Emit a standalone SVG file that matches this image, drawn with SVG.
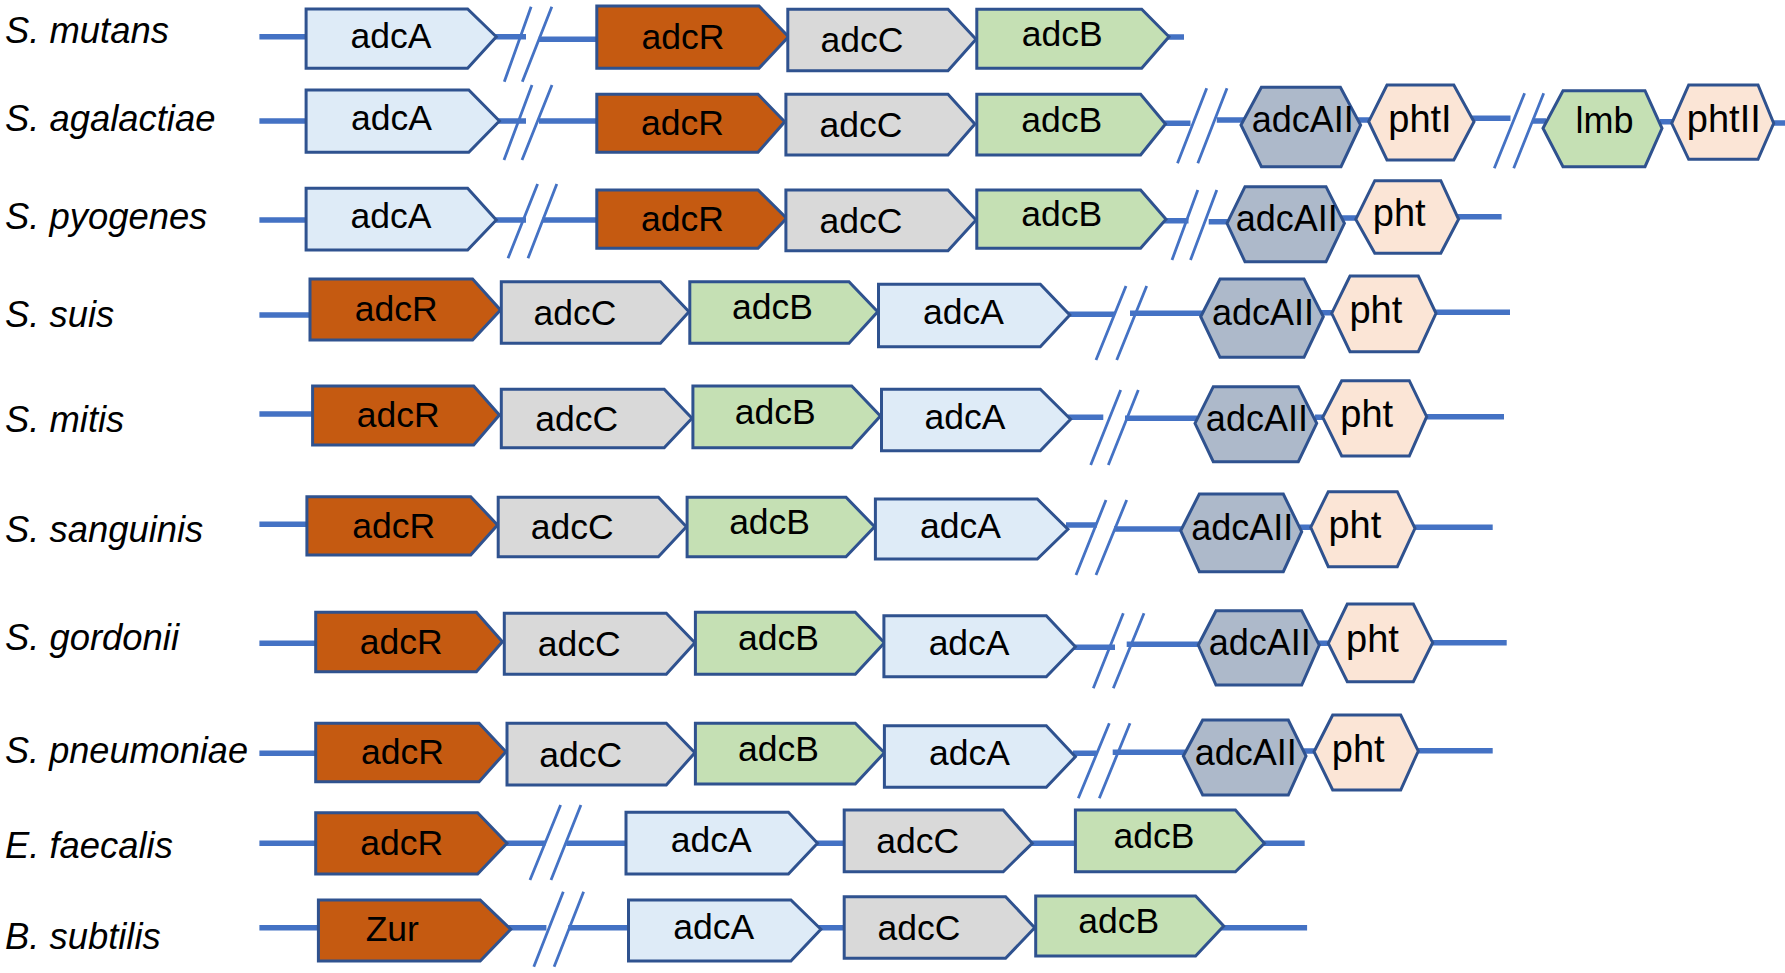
<svg xmlns="http://www.w3.org/2000/svg" width="1785" height="973" viewBox="0 0 1785 973">
<style>
.ln{stroke:#4472C4;stroke-width:5.5;fill:none}
.sl{stroke:#4472C4;stroke-width:2.8;fill:none}
.g{stroke:#2F528F;stroke-width:3;stroke-linejoin:miter}
.R{fill:#C55A11}.C{fill:#D9D9D9}.B{fill:#C5E0B4}.A{fill:#DEEBF7}.A2{fill:#ADB9CA}.P{fill:#FBE5D6}.L{fill:#C5E0B4}
text{font-family:"Liberation Sans",Arial,sans-serif;fill:#000}
.t{font-size:35.5px;text-anchor:middle}
.h{font-size:36px;text-anchor:middle}
.hp{font-size:38px;text-anchor:middle}
.lab{font-size:36.4px;font-style:italic}
</style>
<rect width="1785" height="973" fill="#fff"/>
<g id="labels">
<text class="lab" x="5" y="43.3">S. mutans</text>
<text class="lab" x="5" y="131">S. agalactiae</text>
<text class="lab" x="5" y="229">S. pyogenes</text>
<text class="lab" x="5" y="326.7">S. suis</text>
<text class="lab" x="5" y="431.7">S. mitis</text>
<text class="lab" x="5" y="542">S. sanguinis</text>
<text class="lab" x="5" y="649.5">S. gordonii</text>
<text class="lab" x="5" y="762.5" textLength="243" lengthAdjust="spacingAndGlyphs">S. pneumoniae</text>
<text class="lab" x="5" y="857.5">E. faecalis</text>
<text class="lab" x="5" y="949">B. subtilis</text>
</g>
<g id="connectors">
<!-- row 1 -->
<path class="ln" d="M259.4 36.7H526M538.8 39.3H600M1165 37H1184"/>
<path class="sl" d="M504.3 81.7L531.1 6.7M522.3 81.7L551.8 6.7"/>
<!-- row 2 -->
<path class="ln" d="M259.4 121H526M539 121H600M1163 123.3H1190.5M1216.8 120H1244M1358 120H1371M1472 118.3H1510.5M1532.7 121H1546M1660 121.7H1674M1772 123H1785"/>
<path class="sl" d="M504 160L532 85M522 160L552 85M1177.5 163.3L1206.7 88.3M1197.8 163.3L1227 88.3M1494.3 168.3L1524.6 93.3M1513.7 168.3L1543.7 93.3"/>
<!-- row 3 -->
<path class="ln" d="M259.4 220H526M542.6 220H600M1163 220.7H1188.5M1208.7 221.7H1229M1342 218H1358M1457 216.7H1501.6"/>
<path class="sl" d="M508 258.3L537.6 184M528 258.3L556.8 184M1172 260L1197.8 190M1190.5 260L1216.8 190"/>
<!-- row 4 -->
<path class="ln" d="M259.4 315H312M1068 314.3H1115M1130 313.3H1203M1321 312.7H1334M1434 312.3H1510"/>
<path class="sl" d="M1096 360L1126 286M1116.7 360L1146.7 286"/>
<!-- row 5 -->
<path class="ln" d="M259.4 414H315M1068 417.3H1103.3M1125 418.3H1197M1315 417.3H1325M1425 416.7H1504"/>
<path class="sl" d="M1090.7 465L1120.7 390M1108.3 465L1138.3 390"/>
<!-- row 6 -->
<path class="ln" d="M259.4 524.3H309M1066 525H1096.7M1114 529H1183M1300 527.3H1313M1413 527.3H1492.7"/>
<path class="sl" d="M1076 575L1106 500M1096 575L1126.7 500"/>
<!-- row 7 -->
<path class="ln" d="M259.4 643.3H318M1073 647.3H1115M1126.7 644.3H1200M1317 643.3H1330M1431 642.7H1506.7"/>
<path class="sl" d="M1093.3 688.3L1123.3 613.3M1113.3 688.3L1144 613.3"/>
<!-- row 8 -->
<path class="ln" d="M259.4 753.3H318M1073 753.3H1096.7M1112.7 752.3H1185M1304 751H1316M1416 750.7H1492.7"/>
<path class="sl" d="M1078.3 798.3L1109.3 723.3M1099.3 798.3L1130 723.3"/>
<!-- row 9 -->
<path class="ln" d="M259.4 843.3H545.3M566.3 843.3H1304.7"/>
<path class="sl" d="M530 880L560.6 805M551 880L580.9 805"/>
<!-- row 10 -->
<path class="ln" d="M259.4 927.7H546.4M568.3 927.7H1307.1"/>
<path class="sl" d="M533.8 966.7L563.3 891.7M554.1 966.7L583.6 891.7"/>
</g>

<!-- Row 1: S. mutans -->
<g id="r1-adcA"><polygon class="g A" points="306.1,9 467.6,9 496.3,36.7 467.6,68.3 306.1,68.3"/><text class="t" x="390.9" y="47.5">adcA</text></g>
<g id="r1-adcR"><polygon class="g R" points="596.8,6 759,6 788.5,36.7 759,68.3 596.8,68.3"/><text class="t" x="682.9" y="49">adcR</text></g>
<g id="r1-adcC"><polygon class="g C" points="787.8,9.3 948,9.3 976,39.3 948,70.7 787.8,70.7"/><text class="t" x="861.9" y="52.3">adcC</text></g>
<g id="r1-adcB"><polygon class="g B" points="976.8,9.3 1141.7,9.3 1169,36.7 1141.7,68.3 976.8,68.3"/><text class="t" x="1062.3" y="45.6">adcB</text></g>

<!-- Row 2: S. agalactiae -->
<g id="r2-adcA"><polygon class="g A" points="306.1,90 468.8,90 499.4,121 468.8,152.3 306.1,152.3"/><text class="t" x="391.5" y="130">adcA</text></g>
<g id="r2-adcR"><polygon class="g R" points="596.8,94.3 758,94.3 784.7,121.7 758,152.3 596.8,152.3"/><text class="t" x="682.4" y="135.1">adcR</text></g>
<g id="r2-adcC"><polygon class="g C" points="785.9,94.3 948,94.3 974.9,124 948,155 785.9,155"/><text class="t" x="861" y="137">adcC</text></g>
<g id="r2-adcB"><polygon class="g B" points="976.8,94.3 1140.6,94.3 1165.5,124 1140.6,155 976.8,155"/><text class="t" x="1061.7" y="131.5">adcB</text></g>
<g id="r2-adcAII"><polygon class="g A2" points="1241,125 1261.4,87.3 1340.4,87.3 1360.6,125 1341,166.7 1261.4,166.7"/><text class="h" x="1302.8" y="132">adcAII</text></g>
<g id="r2-phtI"><polygon class="g P" points="1368.7,121.7 1387,85 1453.8,85 1474,121.7 1453.8,160 1387,160"/><text class="hp" x="1420" y="131.7">phtI</text></g>
<g id="r2-lmb"><polygon class="g L" points="1543,128.3 1563,90.7 1645,90.7 1662,128.3 1645,166.7 1563,166.7"/><text class="h" x="1604.5" y="133">lmb</text></g>
<g id="r2-phtII"><polygon class="g P" points="1671.7,123.3 1688.7,85 1758,85 1773.7,123.3 1758,159.3 1688.7,159.3"/><text class="hp" x="1723.8" y="131.7">phtII</text></g>

<!-- Row 3: S. pyogenes -->
<g id="r3-adcA"><polygon class="g A" points="306.1,188.3 467.6,188.3 496.3,220 467.6,250 306.1,250"/><text class="t" x="390.9" y="228">adcA</text></g>
<g id="r3-adcR"><polygon class="g R" points="596.8,190 758,190 786.6,218.3 758,248.3 596.8,248.3"/><text class="t" x="682.4" y="231">adcR</text></g>
<g id="r3-adcC"><polygon class="g C" points="785.9,190 948,190 976,220 948,250.7 785.9,250.7"/><text class="t" x="861" y="232.7">adcC</text></g>
<g id="r3-adcB"><polygon class="g B" points="976.8,190 1140.6,190 1166,219.3 1140.6,248.3 976.8,248.3"/><text class="t" x="1061.7" y="226">adcB</text></g>
<g id="r3-adcAII"><polygon class="g A2" points="1227,223.3 1245,186.7 1326,186.7 1344.4,223.3 1326,261.8 1245,261.8"/><text class="h" x="1286.7" y="231.3">adcAII</text></g>
<g id="r3-pht"><polygon class="g P" points="1355.7,219.3 1374.8,180.7 1440.8,180.7 1458.6,219.3 1440.8,253.3 1374.8,253.3"/><text class="hp" x="1399.2" y="226">pht</text></g>

<!-- Row 4: S. suis -->
<g id="r4-adcR"><polygon class="g R" points="310,279 472.6,279 500.5,310 472.6,340 310,340"/><text class="t" x="396.3" y="321.3">adcR</text></g>
<g id="r4-adcC"><polygon class="g C" points="501.3,281.7 660.4,281.7 689,311.7 660.4,343.3 501.3,343.3"/><text class="t" x="574.9" y="324.8">adcC</text></g>
<g id="r4-adcB"><polygon class="g B" points="689.8,281.7 849,281.7 877.7,311.7 849,343.3 689.8,343.3"/><text class="t" x="772.4" y="319.3">adcB</text></g>
<g id="r4-adcA"><polygon class="g A" points="878.5,284.3 1040.3,284.3 1069.8,315 1040.3,346.7 878.5,346.7"/><text class="t" x="963.4" y="324.3">adcA</text></g>
<g id="r4-adcAII"><polygon class="g A2" points="1200.7,316.7 1220,279 1304,279 1323.3,316.7 1304,357.3 1220,357.3"/><text class="h" x="1263" y="325.2">adcAII</text></g>
<g id="r4-pht"><polygon class="g P" points="1331.7,313.3 1350,276 1418.3,276 1436,313.3 1418.3,351.7 1350,351.7"/><text class="hp" x="1375.9" y="322.9">pht</text></g>

<!-- Row 5: S. mitis -->
<g id="r5-adcR"><polygon class="g R" points="312.6,386 473.7,386 499.4,415 473.7,445 312.6,445"/><text class="t" x="398.2" y="427.3">adcR</text></g>
<g id="r5-adcC"><polygon class="g C" points="501.3,389.3 664.2,389.3 692,418.3 664.2,447.7 501.3,447.7"/><text class="t" x="576.8" y="430.8">adcC</text></g>
<g id="r5-adcB"><polygon class="g B" points="692.9,386 851.7,386 880.4,416 851.7,447.7 692.9,447.7"/><text class="t" x="775.3" y="423.7">adcB</text></g>
<g id="r5-adcA"><polygon class="g A" points="881.5,389.3 1040.3,389.3 1070.6,419.3 1040.3,450.7 881.5,450.7"/><text class="t" x="964.9" y="428.8">adcA</text></g>
<g id="r5-adcAII"><polygon class="g A2" points="1195,423.3 1213.3,386.7 1298.3,386.7 1316.7,423.3 1298.3,461.7 1213.3,461.7"/><text class="h" x="1256.9" y="431.2">adcAII</text></g>
<g id="r5-pht"><polygon class="g P" points="1322.7,417.3 1341.7,380.7 1409.3,380.7 1426.7,416.7 1409.3,456 1341.7,456"/><text class="hp" x="1366.7" y="427.4">pht</text></g>

<!-- Row 6: S. sanguinis -->
<g id="r6-adcR"><polygon class="g R" points="306.9,496.7 470.7,496.7 497.5,525 470.7,555 306.9,555"/><text class="t" x="393.8" y="537.7">adcR</text></g>
<g id="r6-adcC"><polygon class="g C" points="498.2,497.3 658.4,497.3 686.4,526.7 658.4,556.7 498.2,556.7"/><text class="t" x="572.3" y="539.3">adcC</text></g>
<g id="r6-adcB"><polygon class="g B" points="687.1,497.3 846,497.3 874.6,526.7 846,556.7 687.1,556.7"/><text class="t" x="769.6" y="533.8">adcB</text></g>
<g id="r6-adcA"><polygon class="g A" points="875.4,499 1037.3,499 1067.9,529.3 1037.3,559 875.4,559"/><text class="t" x="960.4" y="537.8">adcA</text></g>
<g id="r6-adcAII"><polygon class="g A2" points="1180.7,530.7 1199.3,494 1283.3,494 1301.7,531.7 1283.3,571.7 1199.3,571.7"/><text class="h" x="1242.2" y="539.9">adcAII</text></g>
<g id="r6-pht"><polygon class="g P" points="1310.7,527.3 1328.3,491.7 1397.3,491.7 1415,528.3 1397.3,566.7 1328.3,566.7"/><text class="hp" x="1354.9" y="538.2">pht</text></g>

<!-- Row 7: S. gordonii -->
<g id="r7-adcR"><polygon class="g R" points="315.7,612.3 476.4,612.3 502.4,641.7 476.4,671.7 315.7,671.7"/><text class="t" x="401.1" y="653.8">adcR</text></g>
<g id="r7-adcC"><polygon class="g C" points="504.3,613.3 666.3,613.3 694.9,642.7 666.3,674.3 504.3,674.3"/><text class="t" x="579.3" y="656.1">adcC</text></g>
<g id="r7-adcB"><polygon class="g B" points="695.4,612.3 855.3,612.3 884.4,642.7 855.3,674.3 695.4,674.3"/><text class="t" x="778.4" y="650.1">adcB</text></g>
<g id="r7-adcA"><polygon class="g A" points="883.9,615.7 1046.3,615.7 1075.4,646.7 1046.3,676.7 883.9,676.7"/><text class="t" x="969.1" y="655">adcA</text></g>
<g id="r7-adcAII"><polygon class="g A2" points="1198.3,645 1216,610.7 1301.7,610.7 1319.3,645 1301.7,685 1216,685"/><text class="h" x="1259.8" y="654.9">adcAII</text></g>
<g id="r7-pht"><polygon class="g P" points="1328.3,643.3 1347.3,604 1413.3,604 1432.7,642.7 1413.3,681.7 1347.3,681.7"/><text class="hp" x="1372.5" y="651.9">pht</text></g>

<!-- Row 8: S. pneumoniae -->
<g id="r8-adcR"><polygon class="g R" points="315.7,723.3 479.1,723.3 505.9,751.7 479.1,781.7 315.7,781.7"/><text class="t" x="402.4" y="764.3">adcR</text></g>
<g id="r8-adcC"><polygon class="g C" points="507,723.3 666.3,723.3 694.9,752.7 666.3,785 507,785"/><text class="t" x="580.7" y="766.5">adcC</text></g>
<g id="r8-adcB"><polygon class="g B" points="695.4,723.3 855.3,723.3 884.4,752.7 855.3,784 695.4,784"/><text class="t" x="778.4" y="760.5">adcB</text></g>
<g id="r8-adcA"><polygon class="g A" points="884.4,725.7 1046.3,725.7 1075.4,756.7 1046.3,787.3 884.4,787.3"/><text class="t" x="969.4" y="765.3">adcA</text></g>
<g id="r8-adcAII"><polygon class="g A2" points="1183.3,756 1202.7,720 1288.3,720 1306,756 1288.3,795 1202.7,795"/><text class="h" x="1245.7" y="764.5">adcAII</text></g>
<g id="r8-pht"><polygon class="g P" points="1314,751.7 1332.7,715 1400.7,715 1418.3,751 1400.7,790 1332.7,790"/><text class="hp" x="1358.2" y="761.5">pht</text></g>

<!-- Row 9: E. faecalis -->
<g id="r9-adcR"><polygon class="g R" points="315.7,812.7 477.6,812.7 507,843.3 477.6,874 315.7,874"/><text class="t" x="401.7" y="855.2">adcR</text></g>
<g id="r9-adcA"><polygon class="g A" points="626,812.3 788.4,812.3 817.5,843.3 788.4,874 626,874"/><text class="t" x="711.2" y="852">adcA</text></g>
<g id="r9-adcC"><polygon class="g C" points="844.2,810 1003.2,810 1032.3,843.3 1003.2,871.7 844.2,871.7"/><text class="t" x="917.7" y="853.2">adcC</text></g>
<g id="r9-adcB"><polygon class="g B" points="1075.4,810 1235.4,810 1264.4,843.3 1235.4,871.7 1075.4,871.7"/><text class="t" x="1154" y="847.7">adcB</text></g>

<!-- Row 10: B. subtilis -->
<g id="r10-Zur"><polygon class="g R" points="318.4,900 480.2,900 510.8,929.3 480.2,961 318.4,961"/><text class="t" x="392.3" y="940.8">Zur</text></g>
<g id="r10-adcA"><polygon class="g A" points="628.5,900 790.9,900 820.9,929.3 790.9,961 628.5,961"/><text class="t" x="713.7" y="939.3">adcA</text></g>
<g id="r10-adcC"><polygon class="g C" points="844.2,896.7 1005.6,896.7 1034.7,927.7 1005.6,958.3 844.2,958.3"/><text class="t" x="918.9" y="939.8">adcC</text></g>
<g id="r10-adcB"><polygon class="g B" points="1035.7,896 1195.6,896 1223.7,926 1195.6,956 1035.7,956"/><text class="t" x="1118.7" y="932.8">adcB</text></g>
</svg>
